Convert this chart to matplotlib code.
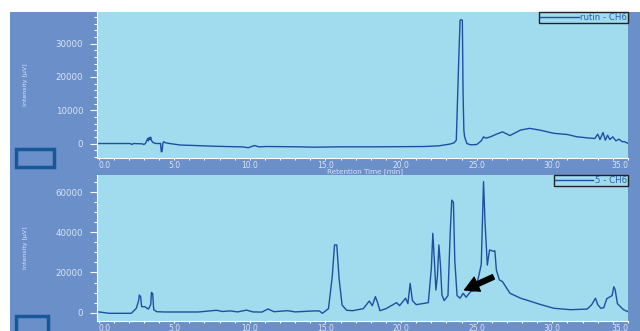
import matplotlib
matplotlib.use("Agg")
import matplotlib.pyplot as plt
from matplotlib.patches import Rectangle
from matplotlib.ticker import MultipleLocator

# --- data ---
rutin_t = [-0.1, 0.5, 2.1, 2.2, 2.3, 2.9, 3.0, 3.1, 3.25, 3.3, 3.35, 3.4, 3.45, 3.5, 3.6,
           3.8, 4.1, 4.15, 4.2, 4.25, 4.3, 4.45, 4.7, 5.4, 6.7, 7.5, 8.9, 9.5, 9.9, 10.3,
           10.6, 11.1, 13.3, 14.2, 16.0, 18.0, 20.0, 21.5, 22.5, 23.25, 23.5, 23.65, 23.8,
           23.9, 23.95, 24.05, 24.1, 24.15, 24.2, 24.35, 24.6, 25.0, 25.3, 25.45, 25.6,
           25.9, 26.3, 26.7, 27.2, 27.9, 28.5, 29.2, 30.1, 31.0, 31.6, 32.3, 32.8, 33.0,
           33.15, 33.35, 33.5, 33.65, 33.8, 34.0, 34.2, 34.4, 34.6, 34.8, 35.0]
rutin_v = [0, 0, 0, -300, 0, -100, -300, 0, 1500, 800, 1800, 1200, 1900, 900, 300,
           0, 0, -2500, -2400, 0, 500, 200, 0, -450, -650, -800, -960, -1000, -1260, -600,
           -1000, -900, -1000, -1100, -1000, -1000, -950, -900, -700, -150, 200, 1000, 23500,
           37000, 37200, 37000, 14500, 4000, 2000, 0, -400, -300, 800, 2000, 1600,
           2000, 2800, 3500, 2400, 4050, 4550, 4000, 3060, 2700, 2040, 1700, 1500, 2800,
           1200, 3300, 1000, 2500, 1200, 2000, 800, 1300, 600, 500, 0]

s5_t = [-0.1, 0.7, 2.17, 2.5, 2.65, 2.7, 2.78, 2.85, 3.05, 3.3, 3.45, 3.5, 3.58, 3.65,
        3.85, 4.4, 6.6, 7.8, 8.2, 8.7, 9.2, 9.78, 10.2, 10.8, 11.2, 11.6, 12.5, 13.0,
        14.3, 14.6, 14.8, 15.2, 15.45, 15.6, 15.75, 15.9, 16.1, 16.4, 16.8, 17.5, 17.9,
        18.1, 18.3, 18.45, 18.6, 19.0, 19.7, 19.9, 20.3, 20.45, 20.6, 20.75, 21.0, 21.4,
        21.8, 22.0, 22.1, 22.2, 22.3, 22.4, 22.5, 22.6, 22.7, 22.85, 23.1, 23.25, 23.35,
        23.46, 23.55, 23.7, 23.9, 24.1, 24.3, 24.6, 24.85, 25.1, 25.3, 25.45, 25.55, 25.7,
        25.85, 25.95, 26.1, 26.2, 26.3, 26.5, 26.7, 27.2, 27.9, 28.5, 29.2, 30.1, 31.2,
        32.3, 32.6, 32.85, 33.0, 33.2, 33.4, 33.6, 33.95, 34.06, 34.15, 34.3, 34.7, 35.0]
s5_v = [500, -300, -300, 2200, 6000, 8800, 8000, 3000, 3000, 1800, 4000, 10100, 9500, 1500,
        500, 350, 350, 1200, 600, 900, 400, 1300, 400, 300, 1850, 500, 1000, 400,
        900, 850, -300, 2000, 18000, 33700, 33700, 17100, 3800, 1200, 1000, 2000, 5800,
        3500, 8000, 5000, 1000, 2000, 5000, 3500, 7200, 4500, 14600, 6000, 4000, 4500,
        5000, 22000, 39500, 26000, 11300, 18000, 33700, 24000, 8800, 6000, 8500, 40300, 56000,
        55000, 26000, 8500, 7200, 9650, 7700, 10500, 11000, 17100, 24000, 65200, 45000,
        23700, 31200, 31000, 30500, 30800, 21200, 16300, 15500, 9650, 7200, 5800, 4100, 2200,
        1500, 1800, 4000, 7200, 4000, 2200, 2500, 7000, 8500, 12900, 11500, 4500, 1500, 500]

x_ticks = [0, 5, 10, 15, 20, 25, 30, 35]
top_yticks = [0, 10000, 20000, 30000]
bot_yticks = [0, 20000, 40000, 60000]

panel_blue = "#6a8fc9"
plot_bg = "#a0dbee"
trace_col = "#1f4fa2"
text_col = "#dbe5f4"

fig = plt.figure(figsize=(6.4, 3.31), dpi=100)
fig.patches.append(Rectangle((10 / 640, 0), 1, 1 - 12 / 331, transform=fig.transFigure,
                             facecolor=panel_blue, edgecolor="none", zorder=-2))
# the two little boxes on the left
fig.patches.append(Rectangle((16 / 640, 1 - 167 / 331), 38 / 640, 18 / 331, transform=fig.transFigure,
                             facecolor="none", edgecolor="#17579a", lw=2.5, zorder=-1))
fig.patches.append(Rectangle((16 / 640, -0.05), 32 / 640, 0.05 + 15 / 331, transform=fig.transFigure,
                             facecolor="none", edgecolor="#17579a", lw=2.5, zorder=-1))

ax1 = fig.add_axes([97 / 640, 1 - 158 / 331, 531 / 640, 146 / 331])
ax2 = fig.add_axes([97 / 640, 1 - 321 / 331, 531 / 640, 146 / 331])


def style(ax, yticks, yminor, ylim):
    ax.set_facecolor(plot_bg)
    ax.set_xlim(-0.1, 35.0)
    ax.set_ylim(*ylim)
    for s in ["top", "right"]:
        ax.spines[s].set_visible(False)
    for s in ["left", "bottom"]:
        ax.spines[s].set_color("white")
        ax.spines[s].set_linewidth(0.8)
    ax.set_xticks(x_ticks)
    ax.set_xticklabels([f"{t:.1f}" for t in x_ticks])
    ax.xaxis.set_minor_locator(MultipleLocator(1))
    ax.set_yticks(yticks)
    ax.yaxis.set_minor_locator(MultipleLocator(yminor))
    ax.tick_params(axis="y", which="major", length=5, width=0.8, color="white",
                   labelsize=6.2, labelcolor=text_col, pad=5)
    ax.tick_params(axis="y", which="minor", length=2.5, width=0.8, color="white")
    ax.tick_params(axis="x", which="both", length=1.5, width=0.8, color="white",
                   labelsize=5.5, labelcolor=text_col, pad=1)
    labs = ax.get_xticklabels()
    labs[0].set_ha("left")
    labs[-1].set_ha("right")
    ax.set_ylabel("Intensity [µV]", fontsize=4.5, color=text_col, labelpad=0)
    ax.yaxis.set_label_coords(-0.13, 0.5)


style(ax1, top_yticks, 2000, (-4350, 39500))
style(ax2, bot_yticks, 5000, (-4130, 68500))

ax1.plot(rutin_t, rutin_v, color=trace_col, lw=1.0, label="rutin - CH6")
ax2.plot(s5_t, s5_v, color=trace_col, lw=1.0, label="5 - CH6")

for ax in (ax1, ax2):
    leg = ax.legend(loc="upper right", bbox_to_anchor=(1.0, 1.0), borderaxespad=0,
                    fontsize=6.2, handlelength=4.5, handletextpad=0.2, borderpad=0.1,
                    fancybox=False, framealpha=1, facecolor=plot_bg, edgecolor="#222222")
    leg.get_frame().set_linewidth(1.0)
    for txt in leg.get_texts():
        txt.set_color("#2e5ea8")

fig.text(365 / 640, 1 - 172 / 331, "Retention Time [min]", fontsize=5.2, color=text_col,
         ha="center", va="center", zorder=10)

ax2.annotate("", xy=(24.2, 11300), xytext=(26.1, 17800),
             arrowprops=dict(facecolor="black", edgecolor="black", width=3.5,
                             headwidth=11, headlength=10))

fig.savefig("out.png", dpi=100)
